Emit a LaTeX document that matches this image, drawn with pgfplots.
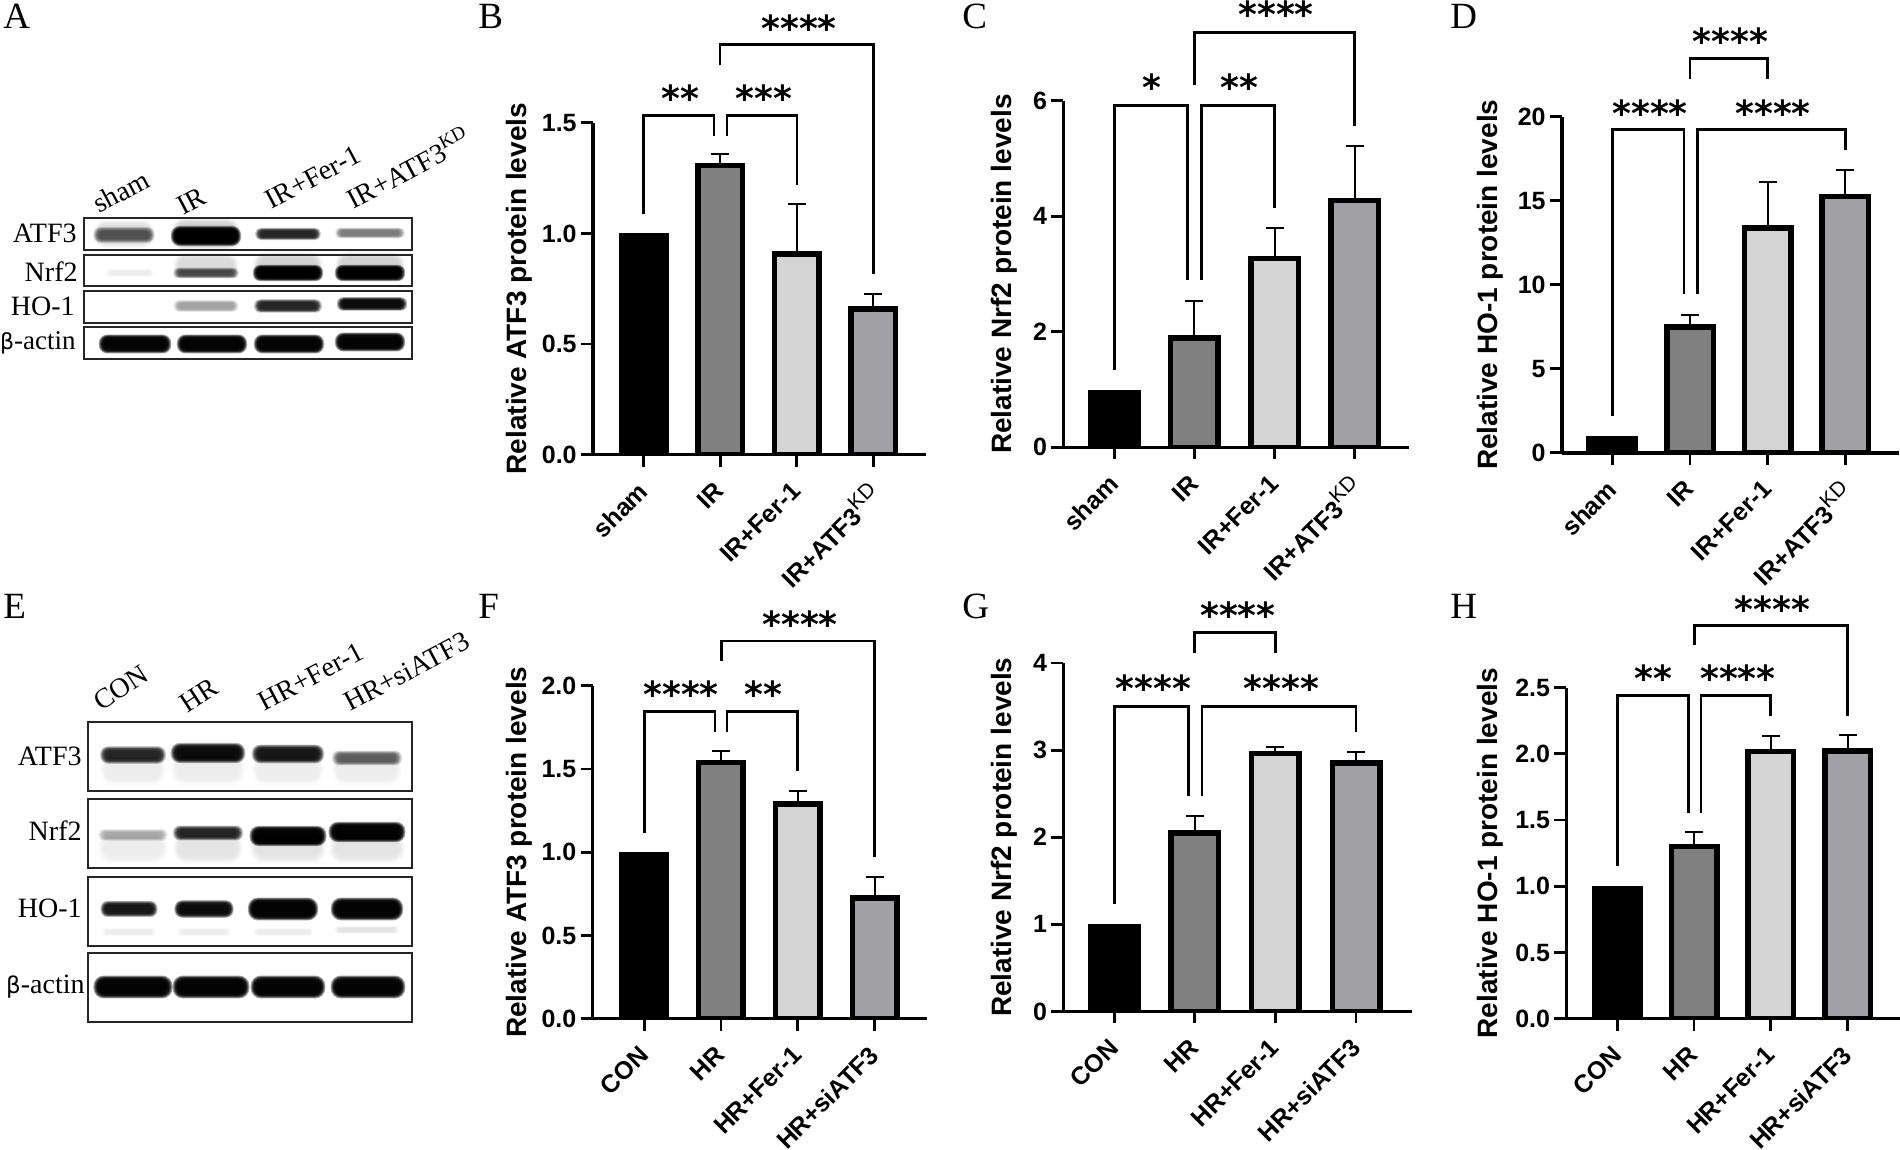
\documentclass[border=0pt]{standalone}
\usepackage{fontspec}
\usepackage{pgfplots}
\pgfplotsset{compat=1.18}
\setmainfont{Liberation Sans}
\newfontfamily\tnr{Liberation Serif}
\newfontfamily\dv{DejaVu Sans}

\definecolor{cIR}{HTML}{808080}
\definecolor{cFer}{HTML}{D4D4D4}
\definecolor{cKD}{HTML}{A0A0A5}

% all of these work in reference pixels, y counted from the top
% blot band: x, y, half width, half height, darkness; a stack of faint shapes makes the blur
\newcommand\band[5]{%
  \pgfmathsetmacro\al{1-(1-min(#5,0.985))^(1/9)}%
  \foreach \k in {1.35,1.25,1.17,1.1,1.04,0.98,0.9,0.8,0.65}{%
    \pgfmathsetmacro\wd{#3*(0.72+0.28*\k)}%
    \pgfmathsetmacro\ht{#4*\k}%
    \pgfmathsetmacro\rd{#4*\k*0.45}%
    \fill[black,opacity=\al,rounded corners=\rd pt] ({#1-\wd},{1150-#2-\ht}) rectangle ({#1+\wd},{1150-#2+\ht});
  }}
\newcommand\frm[4]{\draw[line width=0.6pt,black!85] ({#1},{1150-#3}) rectangle ({#2},{1150-#4});}
\newcommand\bracket[5]{\draw[line width=1.4pt,line join=miter] ({#1},{1150-#4})--({#1},{1150-#3})--({#2},{1150-#3})--({#2},{1150-#5});}
\newcommand\stars[3]{\node[anchor=base,inner sep=0pt,font=\dv\bfseries\fontsize{18}{18}\selectfont] at ({#1},{1150-#2-18}) {#3};}
\newcommand\letter[3]{\node[anchor=base west,inner sep=0pt,font=\tnr\fontsize{18.5}{18}\selectfont] at ({#1},{1150-#2}) {#3};}
\newcommand\blotlab[3]{\node[anchor=base east,inner sep=0pt,font=\tnr\fontsize{14}{14}\selectfont] at ({#1},{1150-#2}) {#3};}
\newcommand\lanelab[4]{\node[anchor=base west,inner sep=0pt,rotate=#4,font=\tnr\fontsize{14}{14}\selectfont] at ({#1},{1150-#2}) {#3};}

\newcommand\KD{\raisebox{.42em}{\mdseries\fontsize{10.5}{11}\selectfont KD}}

\pgfplotsset{
  panel/.style={
    scale only axis,
    anchor=south west,
    axis lines=left,
    axis line style={-,line width=1.75pt},
    tick style={black,line width=1.4pt},
    tick align=outside,
    major tick length=6pt,
    ybar,
    bar shift=0pt,
    ymin=0,
    xtick={0,1,2,3},
    xticklabel style={rotate=45,anchor=north east,font=\bfseries\fontsize{12.5}{13}\selectfont,inner sep=1pt,xshift=-6.1pt,yshift=-1.3pt},
    yticklabel style={font=\bfseries\fontsize{12.5}{13}\selectfont,inner sep=1pt,xshift=-1pt},
    every axis y label/.style={at={(axis description cs:0,0.5)},rotate=90,anchor=center,font=\bfseries\fontsize{14}{14}\selectfont},
  },
  brd/.style={draw=black,line width=2.75pt,fill=#1,error bars/.cd,y dir=plus,y explicit,
    error bar style={line width=1pt,black},
    error mark options={rotate=90,mark size=4.5pt,line width=1pt,black}},
}

\begin{document}
\begin{tikzpicture}
\path[use as bounding box] (0,0) rectangle (950pt,575pt);
\fill[white] (0,0) rectangle (950pt,575pt);

% B
\begin{axis}[panel,at={(296.5pt,347.65pt)},width=166.5pt,height=165.95pt,
  xmin=-0.66,xmax=3.687,ymax=1.5,bar width=22.25pt,
  ytick={0,0.5,1,1.5},yticklabels={0.0,0.5,1.0,1.5},
  xticklabels={sham,IR,IR+Fer-1,IR+ATF3\KD},
  ylabel={Relative ATF3 protein levels},ylabel style={yshift=36.7pt}]
\addplot[fill=black,draw=none,bar width=25pt] coordinates {(0,1)};
\addplot[brd=cIR] coordinates {(1,1.308) +- (0,0.049)};
\addplot[brd=cFer] coordinates {(2,0.907) +- (0,0.224)};
\addplot[brd=cKD] coordinates {(3,0.658) +- (0,0.07)};
\end{axis}

% C
\begin{axis}[panel,at={(531.65pt,351.3pt)},width=172.75pt,height=173.3pt,
  xmin=-0.635,xmax=3.673,ymax=6,bar width=23.75pt,
  ytick={0,2,4,6},
  yticklabels={0,2,4,6},
  xticklabels={sham,IR,IR+Fer-1,IR+ATF3\KD},
  ylabel={Relative Nrf2 protein levels},ylabel style={yshift=29.5pt}]
\addplot[fill=black,draw=none,bar width=26.5pt] coordinates {(0,1)};
\addplot[brd=cIR] coordinates {(1,1.892) +- (0,0.638)};
\addplot[brd=cFer] coordinates {(2,3.272) +- (0,0.528)};
\addplot[brd=cKD] coordinates {(3,4.272) +- (0,0.938)};
\end{axis}

% D
\begin{axis}[panel,at={(781pt,348.55pt)},width=168.25pt,height=168.15pt,
  xmin=-0.65,xmax=3.686,ymax=20,bar width=23.25pt,
  ytick={0,5,10,15,20},yticklabels={0,5,10,15,20},
  xticklabels={sham,IR,IR+Fer-1,IR+ATF3\KD},
  ylabel={Relative HO-1 protein levels},ylabel style={yshift=36pt}]
\addplot[fill=black,draw=none,bar width=26pt] coordinates {(0,1)};
\addplot[brd=cIR] coordinates {(1,7.49) +- (0,0.73)};
\addplot[brd=cFer] coordinates {(2,13.38) +- (0,2.72)};
\addplot[brd=cKD] coordinates {(3,15.24) +- (0,1.6)};
\end{axis}

% F
\begin{axis}[panel,at={(296.35pt,65.65pt)},width=167.15pt,height=166.5pt,
  xmin=-0.671,xmax=3.684,ymax=2,bar width=22.25pt,
  ytick={0,0.5,1,1.5,2},yticklabels={0.0,0.5,1.0,1.5,2.0},
  xticklabels={CON,HR,HR+Fer-1,HR+siATF3},
  ylabel={Relative ATF3 protein levels},ylabel style={yshift=36.7pt}]
\addplot[fill=black,draw=none,bar width=25pt] coordinates {(0,1)};
\addplot[brd=cIR] coordinates {(1,1.54) +- (0,0.068)};
\addplot[brd=cFer] coordinates {(2,1.29) +- (0,0.08)};
\addplot[brd=cKD] coordinates {(3,0.724) +- (0,0.128)};
\end{axis}

% G
\begin{axis}[panel,at={(531.65pt,69.3pt)},width=174.25pt,height=174.2pt,
  xmin=-0.632,xmax=3.692,ymax=4,bar width=23.75pt,
  ytick={0,1,2,3,4},yticklabels={0,1,2,3,4},
  xticklabels={CON,HR,HR+Fer-1,HR+siATF3},
  ylabel={Relative Nrf2 protein levels},ylabel style={yshift=29.5pt}]
\addplot[fill=black,draw=none,bar width=26.5pt] coordinates {(0,1)};
\addplot[brd=cIR] coordinates {(1,2.05) +- (0,0.194)};
\addplot[brd=cFer] coordinates {(2,2.96) +- (0,0.07)};
\addplot[brd=cKD] coordinates {(3,2.85) +- (0,0.13)};
\end{axis}

% H
\begin{axis}[panel,at={(783.2pt,65.65pt)},width=166.8pt,height=165.55pt,
  xmin=-0.663,xmax=3.682,ymax=2.5,bar width=22.75pt,
  ytick={0,0.5,1,1.5,2,2.5},yticklabels={0.0,0.5,1.0,1.5,2.0,2.5},
  xticklabels={CON,HR,HR+Fer-1,HR+siATF3},
  ylabel={Relative HO-1 protein levels},ylabel style={yshift=38pt}]
\addplot[fill=black,draw=none,bar width=25.5pt] coordinates {(0,1)};
\addplot[brd=cIR] coordinates {(1,1.302) +- (0,0.11)};
\addplot[brd=cFer] coordinates {(2,2.017) +- (0,0.12)};
\addplot[brd=cKD] coordinates {(3,2.022) +- (0,0.118)};
\end{axis}

\begin{scope}[x=0.5pt,y=0.5pt]
% significance brackets
\bracket{643.6}{714}{115.9}{214.5}{135.7}
\bracket{727}{797}{115.9}{135.7}{185}
\bracket{720}{873.4}{44.7}{65.3}{274.3}
\stars{680}{93.5}{**}\stars{763.6}{93.5}{***}\stars{799}{23.8}{****}

\bracket{1114.2}{1187.6}{105.6}{369.6}{280.5}
\bracket{1201.5}{1274.8}{105.6}{280.5}{207.9}
\bracket{1194.2}{1354.8}{32.3}{85.4}{126.5}
\stars{1151.8}{82.5}{*}\stars{1239}{82.5}{**}\stars{1276}{9.2}{****}

\bracket{1612.4}{1684}{129.4}{416.2}{294.5}
\bracket{1697.3}{1845.2}{129.4}{294.5}{149.6}
\bracket{1690}{1767.6}{58.7}{78.8}{78.8}
\stars{1650}{108.2}{****}\stars{1773}{108.2}{****}\stars{1730.6}{36.7}{****}

\bracket{644.2}{715}{711.4}{833.5}{731.6}
\bracket{727}{797.6}{711.4}{731.6}{771.2}
\bracket{721.2}{874.5}{641}{661.2}{857.4}
\stars{681}{689.8}{****}\stars{763.6}{689.8}{**}\stars{800}{619.7}{****}

\bracket{1114.2}{1188.2}{706.3}{904.3}{795.8}
\bracket{1202}{1356}{706.3}{795.8}{731.6}
\bracket{1194.8}{1275.5}{632.6}{653.1}{653.1}
\stars{1153.6}{683.5}{****}\stars{1281.5}{683.5}{****}\stars{1237.9}{610.6}{****}

\bracket{1617.3}{1688.2}{695.3}{866.5}{812.6}
\bracket{1700.9}{1770.6}{695.3}{812.6}{716.2}
\bracket{1694.2}{1847.6}{625.6}{645.4}{716.2}
\stars{1653}{674}{**}\stars{1737.9}{674}{****}\stars{1772.4}{604.3}{****}

% panel letters
\letter{3}{29}{A}\letter{478}{29}{B}\letter{962}{29}{C}\letter{1450}{29}{D}
\letter{3}{619}{E}\letter{478}{619}{F}\letter{962}{619}{G}\letter{1450}{619}{H}

% blot A
\band{124}{235}{28}{6}{0.6}\band{206}{236}{32}{7.5}{1}\band{288}{234}{30}{4.5}{0.85}\band{370}{233}{32}{4}{0.5}
\band{206}{234}{32}{13}{0.2}\band{124}{234}{28}{11}{0.12}
\band{130}{273}{22}{3}{0.06}\band{206}{273}{30}{4}{0.65}\band{288}{273}{32}{6}{1}\band{370}{273}{32}{6}{1}
\band{206}{266}{30}{10}{0.12}\band{288}{266}{32}{11}{0.15}\band{370}{266}{32}{11}{0.15}
\band{206}{306}{30}{4.5}{0.35}\band{288}{306}{31}{5}{0.85}\band{372}{304}{32}{5}{0.95}
\band{135}{344}{33}{7}{1}\band{212}{344}{32}{7}{1}\band{289}{344}{32}{7}{1}\band{370}{342}{32}{7}{1}
\frm{84}{412}{218}{250}\frm{84}{412}{255}{286}\frm{84}{412}{291}{323}\frm{84}{412}{327}{359}
\blotlab{77}{243}{ATF3}\blotlab{78}{282}{Nrf2}\blotlab{75}{316}{HO-1}\blotlab{76}{350}{\dv\fontsize{11}{12}\selectfont β\tnr\fontsize{13.5}{14}\selectfont-actin}
\lanelab{99}{214}{sham}{28}\lanelab{183}{216}{IR}{28}\lanelab{271}{210}{IR+Fer-1}{28}\lanelab{353}{210}{IR+ATF3\raisebox{.4em}{\fontsize{9.5}{10}\selectfont KD}}{28}

% blot E
\band{133}{755}{30}{6.5}{0.85}\band{208}{753}{34}{7.5}{0.95}\band{288}{754}{33}{7}{0.9}\band{367}{758}{32}{5.5}{0.6}
\band{133}{770}{30}{12}{0.08}\band{208}{770}{34}{12}{0.08}\band{288}{770}{33}{12}{0.08}\band{367}{770}{32}{12}{0.07}
\band{133}{835}{32}{4.5}{0.3}\band{208}{833}{32}{5.5}{0.85}\band{288}{836}{35}{7.5}{1}\band{367}{832}{35}{7.5}{1}
\band{133}{848}{32}{12}{0.08}\band{208}{848}{32}{12}{0.1}\band{288}{848}{35}{12}{0.1}\band{367}{848}{35}{12}{0.1}
\band{129}{909}{26}{6}{0.9}\band{204}{909}{27}{6.5}{0.95}\band{283}{909}{32}{8.5}{1}\band{367}{909}{33}{8.5}{1}
\band{129}{932}{25}{3}{0.08}\band{204}{932}{25}{3}{0.08}\band{283}{932}{28}{3}{0.06}\band{367}{930}{30}{3}{0.1}
\band{133}{987}{36}{8.5}{1}\band{211}{987}{35}{8.5}{1}\band{288}{987}{34}{8.5}{1}\band{368}{987}{34}{8.5}{1}
\frm{88}{412}{722}{791}\frm{88}{412}{799}{868}\frm{88}{412}{877}{946}\frm{88}{412}{953}{1022}
\blotlab{82}{766}{ATF3}\blotlab{82}{841}{Nrf2}\blotlab{82}{918}{HO-1}\blotlab{85}{994}{\dv\fontsize{11.5}{12}\selectfont β\tnr\fontsize{14}{14}\selectfont-actin}
\lanelab{101}{712}{CON}{33}\lanelab{187}{714}{HR}{33}\lanelab{264}{712}{HR+Fer-1}{28}\lanelab{350}{712}{HR+siATF3}{28}
\end{scope}
\end{tikzpicture}
\end{document}
